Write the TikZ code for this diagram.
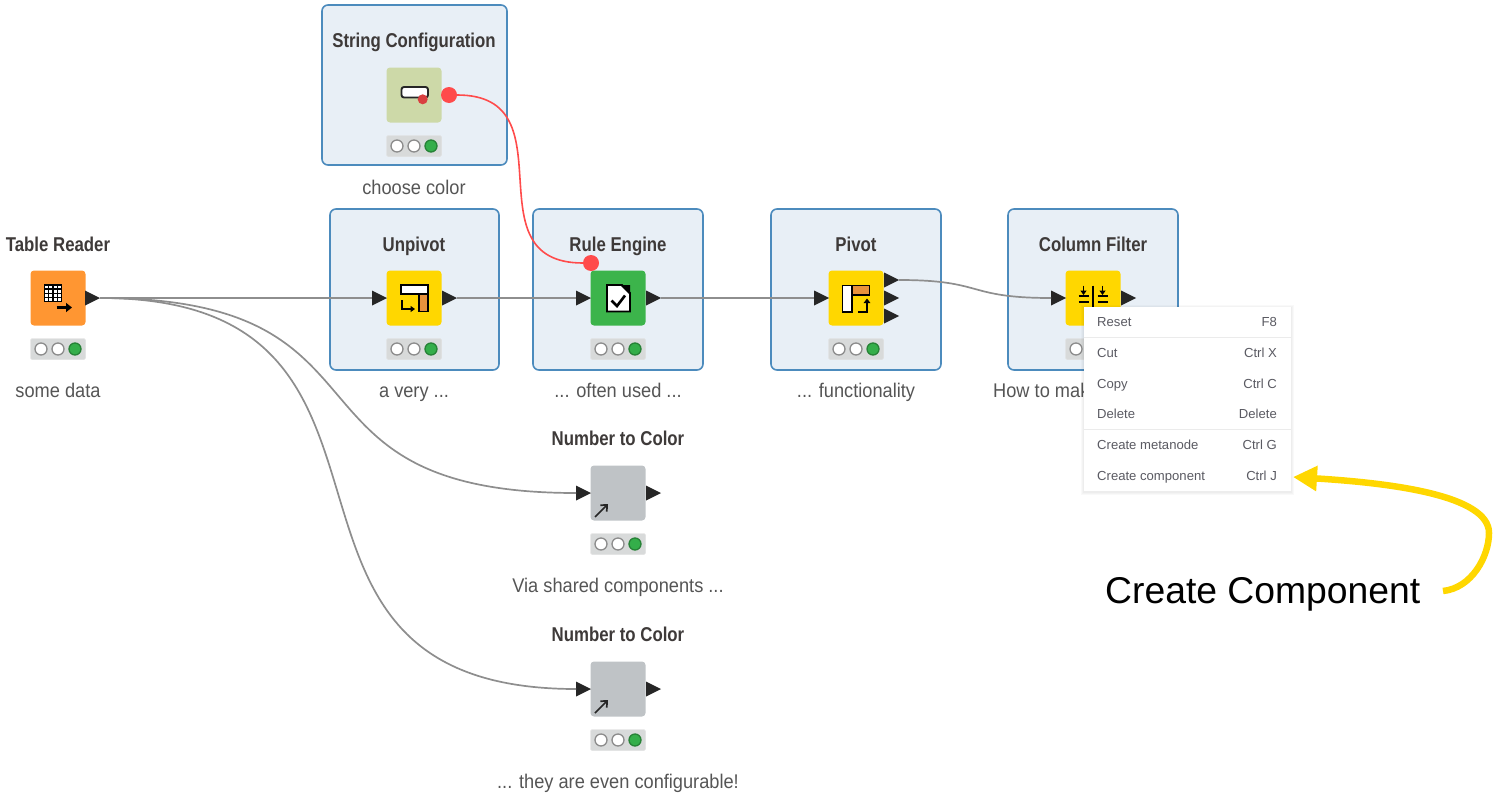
\documentclass[tikz,border=0pt]{standalone}
\usepackage{fontspec}
\setmainfont[FakeStretch=0.84]{Liberation Sans}
\newfontfamily\descfont[FakeStretch=0.92]{Liberation Sans}
\newfontfamily\calloutfont{Liberation Sans}
\usetikzlibrary{shapes.geometric,arrows.meta}
\definecolor{boxfill}{HTML}{E8EFF6}
\definecolor{boxline}{HTML}{4C8BBD}
\definecolor{readerorange}{HTML}{FF9632}
\definecolor{iconorange}{HTML}{E8923C}
\definecolor{manipyellow}{HTML}{FFD700}
\definecolor{rulegreen}{HTML}{3CB44B}
\definecolor{configgreen}{HTML}{CDD9A8}
\definecolor{compgray}{HTML}{BFC3C6}
\definecolor{lightbar}{HTML}{D8DADA}
\definecolor{lightgreen}{HTML}{34AE4A}
\definecolor{wiregray}{HTML}{8E8E8E}
\definecolor{varred}{HTML}{FF4B4B}
\definecolor{titletext}{HTML}{3E3A39}
\definecolor{desctext}{HTML}{555555}
\definecolor{menutext}{HTML}{5A5A62}
\tikzset{
  selectbox/.style={draw=boxline,fill=boxfill,line width=1.6pt,rounded corners=6pt},
  knimenode/.style={minimum size=55pt,inner sep=0pt,rounded corners=3.5pt},
  titlelabel/.style={font=\fontsize{20}{22}\selectfont\bfseries,text=titletext,inner sep=0pt,anchor=base},
  desclabel/.style={font=\descfont\fontsize{19.8}{22}\selectfont,text=desctext,inner sep=0pt,anchor=base},
  menulabel/.style={font=\calloutfont\fontsize{13.1}{15}\selectfont,text=menutext,inner sep=0pt},
  porttip/.style={isosceles triangle,isosceles triangle stretches,fill=black!85,
    minimum width=15pt,minimum height=15pt,inner sep=0pt,outer sep=0pt,anchor=west},
  varport/.style={circle,fill=varred,minimum size=16pt,inner sep=0pt},
  wire/.style={draw=wiregray,line width=1.7pt},
  varwire/.style={draw=varred,line width=1.6pt},
  lamp/.style={circle,draw=black!45,fill=white,line width=1.3pt,minimum size=12pt,inner sep=0pt},
  iconline/.style={draw=black,line width=1.8pt},
}
\begin{document}
\begin{tikzpicture}[x=1pt,y=-1pt]
        \useasboundingbox (0,0) rectangle (1498,795);
        % selection boxes
        \foreach \xa/\ya/\xb/\yb in {322/5/507/165,330/209/499/370,533/209/703/370,771/209/941/370,1008/209/1178/370}
        \draw[selectbox] (\xa,\ya) rectangle (\xb,\yb);
        % node squares, status bars
        \foreach \name/\x/\y/\col in {reader/58/298/readerorange,unpivot/414/298/manipyellow,
          rule/618/298/rulegreen,pivot/856/298/manipyellow,filter/1093/298/manipyellow,
          config/414/95/configgreen,shareda/618/493/compgray,sharedb/618/689/compgray}
        {
        \node[knimenode,fill=\col] (\name) at (\x,\y) {};
        \node[fill=lightbar,draw=black!12,minimum width=55pt,minimum height=21pt,inner sep=0pt,
          rounded corners=1.5pt] (\name bar) at (\x,\y+51) {};
        \node[lamp] (\name lampa) at (\x-17,\y+51) {};
        \node[lamp] (\name lampb) at (\x,\y+51) {};
        \node[lamp,fill=lightgreen,draw=lightgreen!75!black] (\name lampc) at (\x+17,\y+51) {};
        }
        % titles
        \node[titlelabel] (readertitle) at (58,251) {Table Reader};
        \node[titlelabel] (unpivottitle) at (414,251) {Unpivot};
        \node[titlelabel] (ruletitle) at (618,251) {Rule Engine};
        \node[titlelabel] (pivottitle) at (856,251) {Pivot};
        \node[titlelabel] (filtertitle) at (1093,251) {Column Filter};
        \node[titlelabel] (configtitle) at (414,47) {String Configuration};
        \node[titlelabel] (sharedatitle) at (618,445) {Number to Color};
        \node[titlelabel] (sharedbtitle) at (618,641) {Number to Color};
        % descriptions
        \node[desclabel] (readerdesc) at (58,397) {some data};
        \node[desclabel] (unpivotdesc) at (414,397) {a very ...};
        \node[desclabel] (ruledesc) at (618,397) {... often used ...};
        \node[desclabel] (pivotdesc) at (856,397) {... functionality};
        \node[desclabel,anchor=base west] (filterdesc) at (993,397) {How to make};
        \node[desclabel] (configdesc) at (414,194) {choose color};
        \node[desclabel] (sharedadesc) at (618,592) {Via shared components ...};
        \node[desclabel] (sharedbdesc) at (618,788) {... they are even configurable!};
        % ports
        \foreach \name/\x/\y in {reader/85/298,unpivot/442/298,rule/646/298,pivot/884/298,
          filter/1121/298,shareda/646/493,sharedb/646/689}
        \node[porttip] (\name out) at (\x,\y) {};
        \foreach \name/\x/\y in {unpivot/372/298,rule/576/298,pivot/814/298,filter/1051/298,
          shareda/576/493,sharedb/576/689}
        \node[porttip] (\name in) at (\x,\y) {};
        \node[porttip] (pivotouta) at (884,280) {};
        \node[porttip] (pivotoutb) at (884,316) {};
        \node[varport] (configvar) at (449,95) {};
        \node[varport] (rulevar) at (591,263) {};
        % wires
        \draw[wire] (readerout.apex) -- (unpivotin.west);
        \draw[wire] (unpivotout.apex) -- (rulein.west);
        \draw[wire] (ruleout.apex) -- (pivotin.west);
        \draw[wire] (pivotouta.apex) .. controls (985,280) and (965,298) .. (filterin.west);
        \draw[wire] (readerout.apex) .. controls (410,298) and (266,493) .. (sharedain.west);
        \draw[wire] (readerout.apex) .. controls (458,298) and (218,689) .. (sharedbin.west);
        \draw[varwire] (configvar) .. controls (572,95) and (468,263) .. (rulevar);
        % reader icon
        \draw[black,line width=1.3pt,fill=white] (44.5,285) rectangle (61.5,301.5);
        \foreach \x in {48.75,53,57.25} \draw[black,line width=1.3pt] (\x,285) -- (\x,301.5);
        \foreach \y in {289.1,293.2,297.4} \draw[black,line width=1.3pt] (44.5,\y) -- (61.5,\y);
        \draw[black,line width=2.5pt,-{Triangle[length=6pt,width=9pt]}] (56.5,307.5) -- (72,307.5);
        % unpivot icon
        \draw[black,line width=1.6pt,fill=white] (401,285) rectangle (428,294);
        \draw[black,line width=1.6pt,fill=iconorange] (419,294) rectangle (428,311.5);
        \draw[iconline,-{Triangle[length=4.5pt,width=6pt]}] (402,300) -- (402,309) -- (415,309);
        % rule engine icon
        \draw[black,line width=1.8pt,fill=white] (607,285) -- (622,285) -- (630,293) -- (630,311.5) -- (607,311.5) -- cycle;
        \fill[black] (620,285) -- (630,285) -- (630,295) -- cycle;
        \draw[black,line width=2.6pt] (611.5,300.5) -- (617,306) -- (625,295.5);
        % pivot icon
        \draw[black,line width=1.6pt,fill=white] (842.5,285.5) rectangle (852,312);
        \draw[black,line width=1.6pt,fill=iconorange] (852,285.5) rectangle (869.5,295);
        \draw[iconline,-{Triangle[length=4.5pt,width=6.5pt]}] (858,312) -- (867,312) -- (867,298.5);
        % column filter icon
        \draw[black,line width=2.4pt] (1093,285.5) -- (1093,308);
        \draw[black,line width=1.6pt] (1084,307.5) -- (1102,307.5);
        \foreach \x in {1083.5,1102.5}
        {
        \draw[black,line width=1.5pt,-{Triangle[length=4.5pt,width=6pt]}] (\x,285.5) -- (\x,295);
        \draw[black,line width=1.5pt] (\x-5,296) -- (\x+5,296) (\x-5,302) -- (\x+5,302);
        }
        % string configuration icon
        \draw[black!85,line width=1.9pt,fill=white,rounded corners=2.5pt] (401.5,87) rectangle (428,97.5);
        \fill[varred!85!black] (422.7,99.3) circle [radius=5];
        % shared component arrows
        \foreach \y in {493,689}
        \draw[black!85,line width=1.7pt,-{Straight Barb[length=5pt,width=9pt]}] (595,\y+24) -- (608,\y+11);
        % context menu
        \foreach \w in {6,4,2}
        \draw[black,opacity=0.022,line width=\w pt] (1084,307.5) rectangle (1291,491.5);
        \fill[white] (1084,307) rectangle (1291,491);
        \draw[black!8,line width=1pt] (1084,337) -- (1291,337);
        \draw[black!8,line width=1pt] (1084,429) -- (1291,429);
        \foreach \name/\y/\left/\right in {reset/326.5/Reset/F8,cut/357.5/Cut/Ctrl X,copy/388/Copy/Ctrl C,
          delete/418/Delete/Delete,meta/449.5/Create metanode/Ctrl G,comp/480.5/Create component/Ctrl J}
        {
        \node[menulabel,anchor=base west] (\name item) at (1097,\y) {\left};
        \node[menulabel,anchor=base east] (\name key) at (1277,\y) {\right};
        }
        % callout
        \node[font=\calloutfont\fontsize{37.3}{40}\selectfont,text=black,inner sep=0pt,anchor=base west] (callout) at (1105,603) {Create Component};
        \coordinate (calloutstart) at (1443,591);
        \coordinate (callouttip) at (1293,477);
        \draw[manipyellow,line width=6.5pt,-{Triangle[length=24pt,width=24pt]}] (calloutstart)
          .. controls (1472,588) and (1489,556) .. (1489,533)
          .. controls (1489,495) and (1390,483) .. (callouttip);
\end{tikzpicture}
\end{document}
